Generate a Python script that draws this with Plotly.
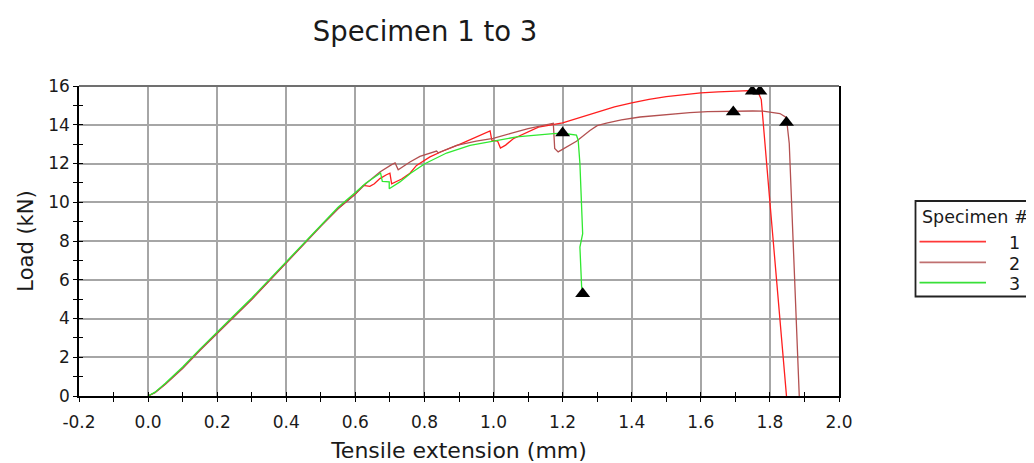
import plotly.graph_objects as go

# ---------------- data ----------------
s1_x = [0, 0.02, 0.05, 0.1, 0.15, 0.2, 0.25, 0.3, 0.35, 0.4, 0.45, 0.5, 0.55, 0.6,
        0.623, 0.642, 0.655, 0.671, 0.69, 0.70, 0.705, 0.734, 0.758, 0.777, 0.816,
        0.85, 0.9, 0.95, 0.99, 0.995, 1.012, 1.02, 1.035, 1.057, 1.09, 1.13, 1.2,
        1.25, 1.3, 1.35, 1.4, 1.45, 1.5, 1.55, 1.6, 1.65, 1.694, 1.74, 1.765,
        1.775, 1.80, 1.825, 1.848]
s1_y = [0, 0.18, 0.62, 1.45, 2.38, 3.28, 4.13, 5.0, 5.95, 6.9, 7.85, 8.78, 9.68, 10.42,
        10.87, 10.82, 10.95, 11.22, 11.42, 11.5, 10.95, 11.2, 11.5, 11.9, 12.34,
        12.62, 12.97, 13.35, 13.68, 13.2, 13.15, 12.8, 12.95, 13.28, 13.55, 13.88, 14.1,
        14.38, 14.65, 14.92, 15.13, 15.31, 15.45, 15.56, 15.64, 15.7, 15.74, 15.76, 15.72,
        15.3, 10.0, 4.9, 0]

s2_x = [0, 0.02, 0.05, 0.1, 0.15, 0.2, 0.25, 0.3, 0.35, 0.4, 0.45, 0.5, 0.55, 0.6,
        0.63, 0.671, 0.705, 0.715, 0.724, 0.758, 0.787, 0.816, 0.835, 0.84, 0.893,
        0.95, 0.999, 1.05, 1.1, 1.173, 1.177, 1.187, 1.21, 1.24, 1.279, 1.30, 1.327,
        1.37, 1.424, 1.48, 1.53, 1.568, 1.62, 1.694, 1.75, 1.78, 1.81, 1.829, 1.845,
        1.85, 1.856, 1.87, 1.885]
s2_y = [0, 0.17, 0.6, 1.42, 2.35, 3.25, 4.1, 4.98, 5.93, 6.88, 7.83, 8.76, 9.66, 10.42,
        10.95, 11.56, 11.94, 12.03, 11.68, 12.08, 12.37, 12.54, 12.64, 12.55, 12.94,
        13.15, 13.3, 13.55, 13.8, 14.08, 12.77, 12.6, 12.85, 13.15, 13.7, 13.95, 14.09,
        14.25, 14.4, 14.5, 14.58, 14.63, 14.68, 14.71, 14.71, 14.7, 14.65, 14.58, 14.4,
        14.0, 13.03, 6.7, 0]

s3_x = [0, 0.02, 0.05, 0.1, 0.15, 0.2, 0.25, 0.3, 0.35, 0.4, 0.45, 0.5, 0.55, 0.6,
        0.63, 0.673, 0.678, 0.698, 0.698, 0.729, 0.76, 0.801, 0.864, 0.932, 0.99,
        1.067, 1.173, 1.2, 1.24, 1.245, 1.25, 1.255, 1.258, 1.25, 1.255, 1.258]
s3_y = [0, 0.2, 0.66, 1.5, 2.42, 3.32, 4.18, 5.06, 6.0, 6.95, 7.9, 8.84, 9.74, 10.5,
        10.98, 11.51, 11.08, 11.05, 10.70, 11.05, 11.5, 11.99, 12.54, 12.94, 13.11,
        13.37, 13.54, 13.56, 13.46, 13.2, 12.0, 9.93, 8.38, 7.69, 5.63, 5.3]

# triangle markers (max load / break) per specimen
mark_x = [1.749, 1.771, 1.694, 1.848, 1.2, 1.258]
mark_y = [15.73, 15.73, 14.66, 14.11, 13.58, 5.28]

names = ["1", "2", "3"]
colors = ["#ff1e1e", "#b35050", "#30e830"]
legend_colors = ["#ff3838", "#c07070", "#38e038"]

x_ticks = [-0.2, 0.0, 0.2, 0.4, 0.6, 0.8, 1.0, 1.2, 1.4, 1.6, 1.8, 2.0]
y_ticks = [0, 2, 4, 6, 8, 10, 12, 14, 16]

# ---------------- figure ----------------
# the page body adds an 8 px offset; compensate in the margins
OFF = 8
W, H = 1034, 463 - OFF
L, T, B = 79 - OFF, 86 - OFF, 67
PW = 760
R = W - L - PW
PH = H - T - B


def px(xs):  # screen x pixel -> paper
    return (xs - OFF - L) / PW


def py(ys):  # screen y pixel -> paper
    return (H - B - (ys - OFF)) / PH


FONT = "DejaVu Sans"
fig = go.Figure()

for xs, ys, nm, c in zip([s1_x, s2_x, s3_x], [s1_y, s2_y, s3_y], names, colors):
    fig.add_trace(go.Scatter(x=xs, y=ys, mode="lines", name=nm,
                             line=dict(color=c, width=1.3), showlegend=False))

fig.add_trace(go.Scatter(x=mark_x, y=mark_y, mode="markers", showlegend=False,
                         marker=dict(symbol="triangle-up", size=13, color="black")))

# overlay axes give the inside half of the crossing ticks
fig.add_trace(go.Scatter(x=[None], y=[None], xaxis="x2", yaxis="y2",
                         showlegend=False, hoverinfo="skip"))

tickfont = dict(family=FONT, size=17, color="#1a1a1a")
fig.update_layout(
    width=W, height=H,
    margin=dict(l=L, r=R, t=T, b=B, autoexpand=False),
    paper_bgcolor="white", plot_bgcolor="white",
    showlegend=False,
    title=dict(text="Specimen 1 to 3", x=(425 - OFF) / W, xref="container",
               xanchor="center", y=1 - (31 - OFF) / H, yref="container",
               yanchor="middle",
               font=dict(family=FONT, size=27.5, color="#1a1a1a")),
    xaxis=dict(range=[-0.2, 2.0], tickvals=x_ticks, automargin=False,
               ticktext=[f"{v:.1f}" for v in x_ticks],
               showgrid=True, gridcolor="#a6a6a6", gridwidth=2,
               zeroline=False, showline=True, linecolor="black", linewidth=1.5,
               ticks="outside", ticklen=4, tickwidth=1.3, tickcolor="black",
               ticklabelstandoff=6,
               minor=dict(dtick=0.1, tick0=0, ticks="outside", ticklen=4,
                          tickwidth=1.3, tickcolor="black", showgrid=False),
               tickfont=tickfont,
               title=dict(text="Tensile extension (mm)", standoff=17,
                          font=dict(family=FONT, size=22, color="#1a1a1a"))),
    yaxis=dict(range=[0, 16], tickvals=y_ticks, automargin=False,
               showgrid=True, gridcolor="#a6a6a6", gridwidth=2,
               zeroline=False, showline=True, linecolor="black", linewidth=1.5,
               mirror=True,
               ticks="outside", ticklen=4, tickwidth=1.3, tickcolor="black",
               minor=dict(dtick=1, tick0=0, ticks="outside", ticklen=4,
                          tickwidth=1.3, tickcolor="black", showgrid=False),
               tickfont=tickfont,
               title=dict(text="Load (kN)", standoff=9,
                          font=dict(family=FONT, size=21, color="#1a1a1a"))),
    xaxis2=dict(overlaying="x", range=[-0.2, 2.0], tickvals=x_ticks, automargin=False,
                showticklabels=False, showgrid=False, zeroline=False, showline=False,
                ticks="inside", ticklen=4, tickwidth=1.3, tickcolor="black",
                minor=dict(dtick=0.1, tick0=0, ticks="inside", ticklen=4,
                           tickwidth=1.3, tickcolor="black", showgrid=False)),
    yaxis2=dict(overlaying="y", range=[0, 16], tickvals=y_ticks, side="left",
                automargin=False,
                showticklabels=False, showgrid=False, zeroline=False, showline=False,
                ticks="inside", ticklen=4, tickwidth=1.3, tickcolor="black",
                minor=dict(dtick=1, tick0=0, ticks="inside", ticklen=4,
                           tickwidth=1.3, tickcolor="black", showgrid=False)),
)

# top frame line (grey, like the reference)
fig.add_shape(type="line", xref="paper", yref="paper", x0=0, x1=1, y0=1, y1=1,
              line=dict(color="#707070", width=2))

# ---------------- legend (drawn as a boxed key, clipped at the right edge) -------
fig.add_shape(type="rect", xref="paper", yref="paper",
              x0=px(915.5), x1=px(1060), y0=py(296.5), y1=py(201),
              line=dict(color="#222222", width=1.8), fillcolor="white", layer="above")
fig.add_annotation(text="Specimen #", xref="paper", yref="paper",
                   x=px(920), y=py(216.5), xanchor="left", yanchor="middle",
                   showarrow=False, font=dict(family=FONT, size=17.5, color="#1a1a1a"))
for i, (nm, c) in enumerate(zip(names, legend_colors)):
    yy = [241.7, 262.3, 282.7][i]
    fig.add_shape(type="line", xref="paper", yref="paper",
                  x0=px(919.5), x1=px(986), y0=py(yy), y1=py(yy),
                  line=dict(color=c, width=1.8), layer="above")
    fig.add_annotation(text=nm, xref="paper", yref="paper",
                       x=px(1014), y=py(yy + 1.5), xanchor="center", yanchor="middle",
                       showarrow=False, font=dict(family=FONT, size=17.5, color="#1a1a1a"))

fig.write_html("out.html")
